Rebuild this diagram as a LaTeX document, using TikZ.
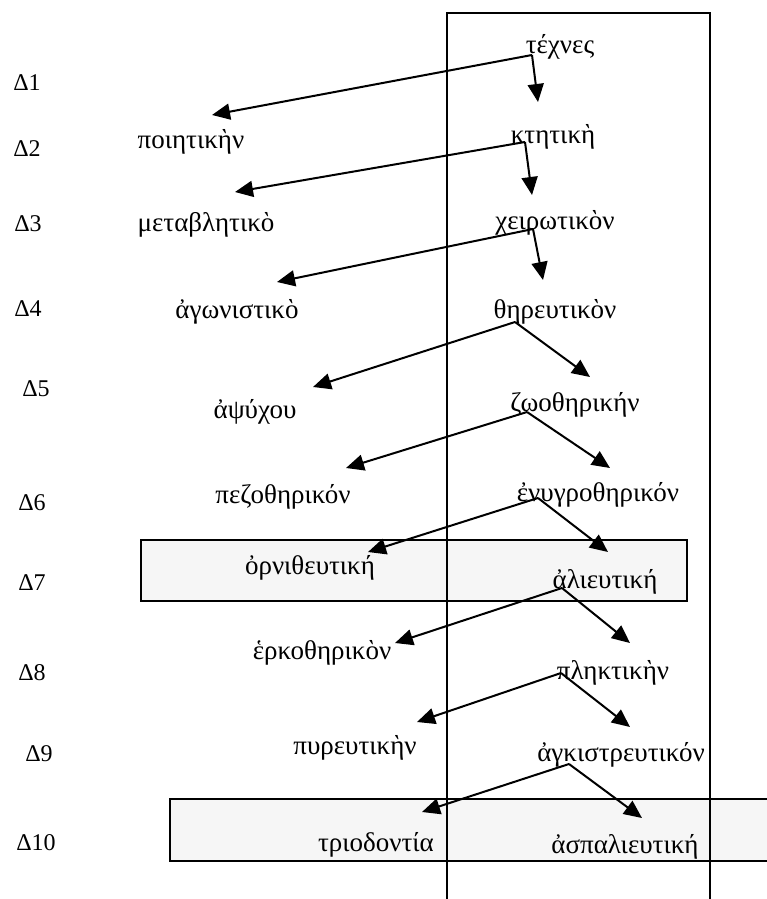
\documentclass[tikz,border=0pt]{standalone}
\usepackage{fontspec}
\setmainfont{Liberation Serif}
\usetikzlibrary{arrows.meta}

\tikzset{
  word/.style={font=\fontsize{27}{31}\selectfont, inner sep=0pt, anchor=base},
  level/.style={font=\fontsize{24}{28}\selectfont, inner sep=0pt, anchor=base},
  arr/.style={-{Triangle[length=18pt,width=16pt]}, line width=2pt},
  band/.style={fill=gray!7}
}

\begin{document}
\begin{tikzpicture}[x=1pt, y=-1pt]
  \useasboundingbox (0,0) rectangle (767,899);

  % shaded rows
  \fill[band] (141,540) rectangle (687,601);
  \draw[line width=1.4pt] (141,540) rectangle (687,601);
  \fill[band] (170,799) rectangle (767,861);
  \draw[line width=1.4pt] (767,799) -- (170,799) -- (170,861) -- (767,861);

  % open frame
  \draw[line width=1.4pt] (447,899) -- (447,13) -- (710,13) -- (710,899);

  % levels
  \node (d1) [level] at (27,90) {Δ1};
  \node (d2) [level] at (27,156) {Δ2};
  \node (d3) [level] at (28,231) {Δ3};
  \node (d4) [level] at (28,316) {Δ4};
  \node (d5) [level] at (36,396) {Δ5};
  \node (d6) [level] at (32,510) {Δ6};
  \node (d7) [level] at (32,590) {Δ7};
  \node (d8) [level] at (32,680) {Δ8};
  \node (d9) [level] at (39,761) {Δ9};
  \node (d10) [level] at (36,850) {Δ10};

  % right column
  \node (techne) [word] at (560,53) {τέχνες};
  \node (ktitiki) [word] at (553,143) {κτητικὴ};
  \node (cheirotikon) [word] at (555,229) {χειρωτικὸν};
  \node (thereutikon) [word] at (555,318) {θηρευτικὸν};
  \node (zoothiriki) [word] at (575,411) {ζωοθηρικήν};
  \node (enygrothiriko) [word] at (598,501) {ἐνυγροθηρικόν};
  \node (alieutiki) [word] at (605,588) {ἀλιευτική};
  \node (pliktiki) [word] at (613,679) {πληκτικὴν};
  \node (ankistreutiko) [word] at (621,761) {ἀγκιστρευτικόν};
  \node (aspalieutiki) [word] at (625,853) {ἀσπαλιευτική};

  % left column
  \node (poiitiki) [word] at (191,148) {ποιητικὴν};
  \node (metavlitiko) [word] at (206,231) {μεταβλητικὸ};
  \node (agonistiko) [word] at (237,318) {ἀγωνιστικὸ};
  \node (apsychou) [word] at (255,418) {ἀψύχου};
  \node (pezothiriko) [word] at (283,503) {πεζοθηρικόν};
  \node (ornitheutiki) [word] at (310,574) {ὀρνιθευτική};
  \node (erkothiriko) [word] at (322,659) {ἑρκοθηρικὸν};
  \node (pyreutiki) [word] at (355,754) {πυρευτικὴν};
  \node (triodontia) [word] at (376,851) {τριοδοντία};

  % split points under each word
  \coordinate (techne-s) at (532,55);
  \coordinate (ktitiki-s) at (525,142);
  \coordinate (cheirotikon-s) at (533,229);
  \coordinate (thereutikon-s) at (515,322);
  \coordinate (zoothiriki-s) at (527,412);
  \coordinate (enygrothiriko-s) at (538,498);
  \coordinate (alieutiki-s) at (562,588);
  \coordinate (pliktiki-s) at (561,673);
  \coordinate (ankistreutiko-s) at (569,764);

  % arrow heads above each word
  \coordinate (poiitiki-t) at (212,115);
  \coordinate (ktitiki-t) at (538,102);
  \coordinate (metavlitiko-t) at (235,192);
  \coordinate (cheirotikon-t) at (532,195);
  \coordinate (agonistiko-t) at (277,282);
  \coordinate (thereutikon-t) at (543,280);
  \coordinate (apsychou-t) at (313,387);
  \coordinate (zoothiriki-t) at (590,377);
  \coordinate (pezothiriko-t) at (346,468);
  \coordinate (enygrothiriko-t) at (610,468);
  \coordinate (ornitheutiki-t) at (368,552);
  \coordinate (alieutiki-t) at (608,552);
  \coordinate (erkothiriko-t) at (395,643);
  \coordinate (pliktiki-t) at (630,643);
  \coordinate (pyreutiki-t) at (417,722);
  \coordinate (ankistreutiko-t) at (630,727);
  \coordinate (triodontia-t) at (422,812);
  \coordinate (aspalieutiki-t) at (642,818);

  \draw[arr] (techne-s) -- (poiitiki-t);
  \draw[arr] (techne-s) -- (ktitiki-t);
  \draw[arr] (ktitiki-s) -- (metavlitiko-t);
  \draw[arr] (ktitiki-s) -- (cheirotikon-t);
  \draw[arr] (cheirotikon-s) -- (agonistiko-t);
  \draw[arr] (cheirotikon-s) -- (thereutikon-t);
  \draw[arr] (thereutikon-s) -- (apsychou-t);
  \draw[arr] (thereutikon-s) -- (zoothiriki-t);
  \draw[arr] (zoothiriki-s) -- (pezothiriko-t);
  \draw[arr] (zoothiriki-s) -- (enygrothiriko-t);
  \draw[arr] (enygrothiriko-s) -- (ornitheutiki-t);
  \draw[arr] (enygrothiriko-s) -- (alieutiki-t);
  \draw[arr] (alieutiki-s) -- (erkothiriko-t);
  \draw[arr] (alieutiki-s) -- (pliktiki-t);
  \draw[arr] (pliktiki-s) -- (pyreutiki-t);
  \draw[arr] (pliktiki-s) -- (ankistreutiko-t);
  \draw[arr] (ankistreutiko-s) -- (triodontia-t);
  \draw[arr] (ankistreutiko-s) -- (aspalieutiki-t);
\end{tikzpicture}
\end{document}
